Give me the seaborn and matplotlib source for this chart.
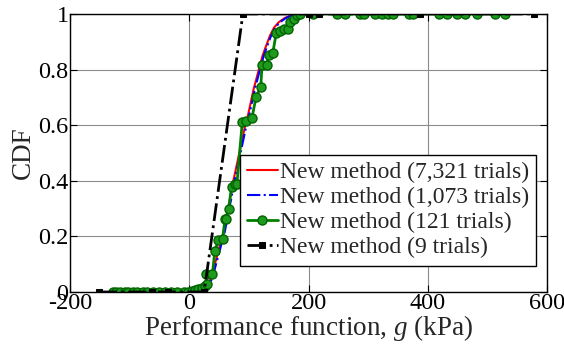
import numpy as np
import pandas as pd
import matplotlib
matplotlib.use("Agg")
import matplotlib.pyplot as plt
import seaborn as sns

# ---- data ----
red_x = [-130, 20, 28, 33, 38, 43, 48, 53, 58, 63, 68, 73, 78, 83, 88, 93, 98, 103, 108, 113, 118, 123, 128, 135, 142, 150, 160, 170, 185, 560]
red_y = [0, 0, 0.01, 0.03, 0.06, 0.1, 0.14, 0.18, 0.22, 0.28, 0.33, 0.39, 0.44, 0.49, 0.54, 0.59, 0.63, 0.68, 0.73, 0.77, 0.81, 0.85, 0.88, 0.92, 0.95, 0.97, 0.985, 0.995, 1.0, 1.0]

blue_x = [-130, 22, 30, 35, 40, 45, 50, 55, 60, 65, 70, 75, 80, 85, 90, 95, 100, 105, 110, 115, 120, 125, 130, 137, 144, 152, 162, 172, 187, 560]
blue_y = [0, 0, 0.01, 0.03, 0.06, 0.1, 0.14, 0.18, 0.22, 0.28, 0.33, 0.39, 0.44, 0.49, 0.54, 0.59, 0.63, 0.68, 0.73, 0.77, 0.81, 0.85, 0.88, 0.92, 0.95, 0.97, 0.985, 0.995, 1.0, 1.0]

green_x = [-128, -122, -116, -108, -102, -95, -88, -78, -70, -60, -50, -40, -30, -21, -9, -2, 5, 10, 15, 21, 27,
           29, 28, 39, 43, 49, 56, 60, 62, 66, 71, 77, 80, 89, 96, 105, 112, 120, 122, 130, 133, 140, 146, 152, 159,
           165, 169, 175, 181, 186, 208, 248, 262, 287, 293, 312, 323, 334, 341, 368, 376, 418, 432, 449, 463, 483, 513, 530]
green_y = [0, 0, 0, 0, 0, 0, 0, 0, 0, 0, 0, 0, 0, 0, 0, 0, 0.005, 0.008, 0.01, 0.015, 0.02,
           0.03, 0.066, 0.066, 0.148, 0.186, 0.19, 0.264, 0.264, 0.30, 0.378, 0.39, 0.39, 0.612, 0.616, 0.624, 0.70, 0.738, 0.816, 0.816, 0.852, 0.858, 0.933, 0.94, 0.945,
           0.945, 0.972, 0.98, 0.996, 1.0, 1.0, 1.0, 1.0, 1.0, 1.0, 1.0, 1.0, 1.0, 1.0, 1.0, 1.0, 1.0, 1.0, 1.0, 1.0, 1.0, 1.0, 1.0]

black_x = [-151, -62, -35, 25, 90, 200, 217, 387, 578]
black_y = [0, 0, 0, 0, 1, 1, 1, 1, 1]

labels = ["New method (7,321 trials)", "New method (1,073 trials)",
          "New method (121 trials)", "New method (9 trials)"]
xticks = [-200, 0, 200, 400, 600]
yticks = [0, 0.2, 0.4, 0.6, 0.8, 1]
ytick_labels = ["0", "0.2", "0.4", "0.6", "0.8", "1"]

sns.set_theme(style="white")
plt.rcParams["font.family"] = ["Liberation Serif", "DejaVu Serif"]
plt.rcParams["mathtext.fontset"] = "custom"
plt.rcParams["mathtext.it"] = "Liberation Serif:italic"
plt.rcParams["mathtext.rm"] = "Liberation Serif"

fig = plt.figure(figsize=(5.64, 3.48), dpi=100)
ax = fig.add_axes([0.124, 0.161, 0.846, 0.799])

sns.lineplot(x=red_x, y=red_y, ax=ax, color="red", lw=1.5, sort=False, estimator=None, label=labels[0])
sns.lineplot(x=blue_x, y=blue_y, ax=ax, color="blue", lw=1.5, linestyle="-.", sort=False, estimator=None, label=labels[1])
sns.lineplot(x=green_x, y=green_y, ax=ax, color="#008000", lw=2, marker="o", markersize=6.5,
             markerfacecolor="#1f9a1f", markeredgecolor="#006400", markeredgewidth=1,
             sort=False, estimator=None, label=labels[2])
sns.lineplot(x=black_x, y=black_y, ax=ax, color="black", lw=2, linestyle="-.", marker="s", markersize=5,
             markerfacecolor="black", markeredgecolor="black",
             sort=False, estimator=None, label=labels[3])

ax.set_xlim(-200, 600)
ax.set_ylim(0, 1)
ax.set_xticks(xticks)
ax.set_xticklabels([str(t) for t in xticks])
ax.set_yticks(yticks)
ax.set_yticklabels(ytick_labels)
ax.grid(True, color="#8c8c8c", lw=0.8)
ax.tick_params(direction="in", length=5, width=0.8, labelsize=17.5, top=True, right=True,
               bottom=True, left=True, colors="black", pad=1)
for s in ax.spines.values():
    s.set_color("black")
    s.set_linewidth(1.0)

ax.set_xlabel(r"Performance function, $g$ (kPa)", fontsize=19.5, labelpad=-1)
ax.set_ylabel("CDF", fontsize=19.5, labelpad=2)

leg = ax.legend(loc="lower right", bbox_to_anchor=(0.977, 0.095), fontsize=17,
                frameon=True, fancybox=False, framealpha=1, edgecolor="black",
                handlelength=1.3, handletextpad=0.1, labelspacing=0.15,
                borderpad=0.3, borderaxespad=0)
leg.get_frame().set_linewidth(1.0)

fig.savefig("out.png", dpi=100)
